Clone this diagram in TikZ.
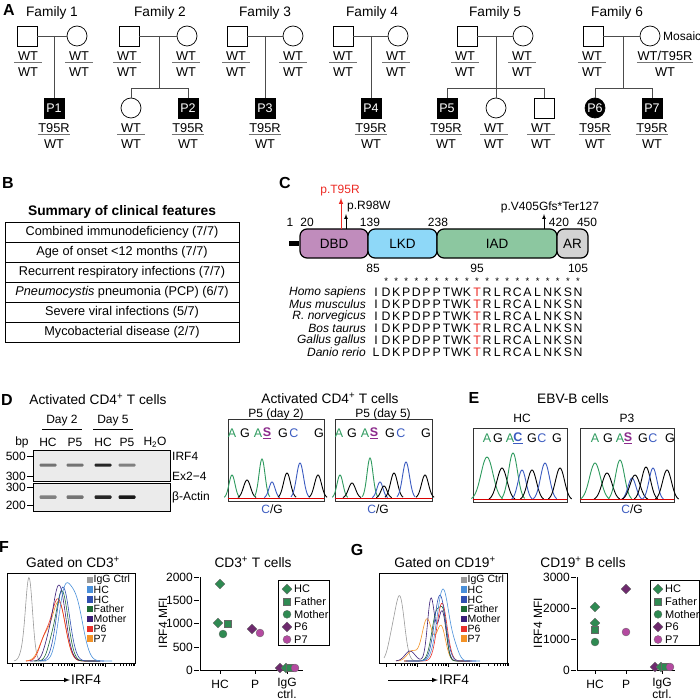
\documentclass[tikz,border=0pt]{standalone}
\usepackage{fontspec}
\setmainfont{Liberation Sans}
\usetikzlibrary{shapes,arrows}

\definecolor{dbdcol}{HTML}{C08CBC}
\definecolor{lkdcol}{HTML}{8ED8F8}
\definecolor{iadcol}{HTML}{8CC7A0}
\definecolor{arcol}{HTML}{D3D3D3}
\definecolor{seqgreen}{HTML}{2E9A5E}
\definecolor{seqblue}{HTML}{3B5BC0}
\definecolor{seqpurple}{HTML}{8B2A8B}
\definecolor{ptred}{HTML}{EC2A24}
\definecolor{iggcol}{HTML}{9A9A9A}
\definecolor{hcone}{HTML}{4A90DA}
\definecolor{hctwo}{HTML}{3050B0}
\definecolor{fathercol}{HTML}{1F6B35}
\definecolor{mothercol}{HTML}{3A1E78}
\definecolor{psixcol}{HTML}{E8302A}
\definecolor{psevencol}{HTML}{F39226}
\definecolor{mkgreen}{HTML}{2F8A52}
\definecolor{mkpurple}{HTML}{6E2A6E}
\definecolor{mkpink}{HTML}{B44AA0}

\tikzset{
  panel/.style={font=\fontsize{16}{18}\selectfont\bfseries, inner sep=0pt},
  ttl/.style={font=\fontsize{13.7}{15}\selectfont, inner sep=1pt},
  lbl/.style={font=\fontsize{12}{13}\selectfont, inner sep=1pt},
  male/.style={draw, rectangle, minimum size=20pt, inner sep=0pt, line width=0.7pt, font=\fontsize{12.5}{13}\selectfont},
  female/.style={draw, circle, minimum size=20pt, inner sep=0pt, line width=0.7pt, font=\fontsize{12.5}{13}\selectfont},
  affected/.style={fill=black, text=white},
  pline/.style={draw=black!70, line width=0.7pt},
  gtext/.style={font=\fontsize{12.8}{13}\selectfont, inner sep=0.5pt, minimum width=27pt},
  gline/.style={draw=black!55, line width=0.8pt},
  rowbox/.style={draw, minimum width=234pt, minimum height=20pt, inner sep=0pt, line width=0.6pt, font=\fontsize{12.7}{13}\selectfont},
  protdom/.style={draw, rounded corners=7pt, line width=1.2pt, minimum height=29pt, inner sep=0pt, font=\fontsize{13.5}{15}\selectfont},
  res/.style={font=\fontsize{12.3}{13}\selectfont, inner sep=0pt, text height=8.8pt, text depth=0pt},
  cons/.style={font=\fontsize{9.5}{10}\selectfont, inner sep=0pt, anchor=base, text height=5pt, text depth=0pt},
  spname/.style={font=\fontsize{12}{13}\selectfont\itshape, inner sep=0pt, anchor=east},
  gelbox/.style={draw, fill=black!8, minimum width=137pt, inner sep=0pt, line width=0.6pt},
  band/.style={rounded corners=1pt, minimum width=17pt, minimum height=3pt, inner sep=0pt},
  chbox/.style={draw=black!80, line width=0.7pt, inner sep=0pt},
  base/.style={font=\fontsize{12.5}{14}\selectfont, inner sep=0pt},
  histbox/.style={draw, line width=0.6pt, minimum width=128pt, minimum height=90pt, inner sep=0pt},
  hline/.style={line width=0.6pt},
  lgsq/.style={rectangle, minimum size=6.5pt, inner sep=0pt},
  lgtxt/.style={font=\fontsize{10.5}{12}\selectfont, inner sep=0pt, anchor=west},
  axis/.style={line width=0.8pt},
  dmd/.style={diamond, draw=black!60, line width=0.3pt, minimum size=10pt, inner sep=0pt},
  sqm/.style={rectangle, draw=black!60, line width=0.3pt, minimum size=7pt, inner sep=0pt},
  cim/.style={circle, draw=black!60, line width=0.3pt, minimum size=8pt, inner sep=0pt}
}

% genotype: name, x, y, upper allele, lower allele
\newcommand{\geno}[5]{%
  \node[gtext] (#1a) at (#2,#3) {#4};
  \node[gtext] (#1b) at (#2,#3+16) {#5};
  \draw[gline] ([yshift=-1.5pt]#1a.south west) -- ([yshift=-1.5pt]#1a.south east);
}
% trace peak: colour, centre, height, width, baseline
\newcommand{\chpeak}[5]{%
  \draw[#1, line width=0.9pt] plot[domain=#2-2.6*#4:#2+2.6*#4, samples=25, smooth] (\x,{#5-#3*gs(\x,#2,#4)});
}
% histogram curve: colour, domain, height expression
\newcommand{\hcurve}[3]{%
  \draw[#1, hline] plot[domain=#2, samples=70, smooth] (\x,{661-(#3)});
}

\begin{document}
\begin{tikzpicture}[x=1pt, y=-1pt,
  declare function={gs(\a,\m,\s)=exp(-((\a-\m)*(\a-\m))/(2*\s*\s));}] % IRF4 T95R figure
\useasboundingbox (0,0) rectangle (700,700);

%% A: pedigrees
\node[panel] (pA) at (9,10) {A};
\node[ttl] (fam1) at (52,13) {Family 1};
\node[ttl] (fam2) at (160,13) {Family 2};
\node[ttl] (fam3) at (265,13) {Family 3};
\node[ttl] (fam4) at (372,13) {Family 4};
\node[ttl] (fam5) at (495,13) {Family 5};
\node[ttl] (fam6) at (617,13) {Family 6};

% family 1
\node[male] (f1dad) at (27,36) {};
\node[female] (f1mom) at (77,36) {};
\coordinate (f1mid) at (54,36);
\node[male,affected] (p1) at (54,108) {P1};
\draw[pline] (f1dad) -- (f1mom);
\draw[pline] (f1mid) -- (p1);
% family 2
\node[male] (f2dad) at (129,36) {};
\node[female] (f2mom) at (187,36) {};
\coordinate (f2mid) at (159,36);
\coordinate (f2bar) at (159,88);
\node[female] (f2sis) at (131,108) {};
\node[male,affected] (p2) at (188,108) {P2};
\draw[pline] (f2dad) -- (f2mom);
\draw[pline] (f2mid) -- (f2bar);
\draw[pline] (f2sis) -- (f2sis |- f2bar) -- (p2 |- f2bar) -- (p2);
% family 3
\node[male] (f3dad) at (237,36) {};
\node[female] (f3mom) at (293,36) {};
\coordinate (f3mid) at (265,36);
\node[male,affected] (p3) at (265,108) {P3};
\draw[pline] (f3dad) -- (f3mom);
\draw[pline] (f3mid) -- (p3);
% family 4
\node[male] (f4dad) at (343,36) {};
\node[female] (f4mom) at (398,36) {};
\coordinate (f4mid) at (371,36);
\node[male,affected] (p4) at (371,108) {P4};
\draw[pline] (f4dad) -- (f4mom);
\draw[pline] (f4mid) -- (p4);
% family 5
\node[male] (f5dad) at (467,36) {};
\node[female] (f5mom) at (523,36) {};
\coordinate (f5mid) at (496,36);
\coordinate (f5bar) at (496,88);
\node[male,affected] (p5) at (447,108) {P5};
\node[female] (f5sis) at (496,108) {};
\node[male] (f5bro) at (544,108) {};
\draw[pline] (f5dad) -- (f5mom);
\draw[pline] (f5mid) -- (f5sis);
\draw[pline] (p5) -- (p5 |- f5bar) -- (f5bro |- f5bar) -- (f5bro);
% family 6
\node[male] (f6dad) at (593,36) {};
\node[female] (f6mom) at (650,36) {};
\coordinate (f6mid) at (623,36);
\coordinate (f6bar) at (623,88);
\node[female,affected] (p6) at (595,108) {P6};
\node[male,affected] (p7) at (652,108) {P7};
\draw[pline] (f6dad) -- (f6mom);
\draw[pline] (f6mid) -- (f6bar);
\draw[pline] (p6) -- (p6 |- f6bar) -- (p7 |- f6bar) -- (p7);
\node[lbl, anchor=west] (mosaic) at (662,36) {Mosaic};

% genotypes
\geno{g1d}{28}{56}{WT}{WT}
\geno{g1m}{79}{56}{WT}{WT}
\geno{g2d}{127}{56}{WT}{WT}
\geno{g2m}{186}{56}{WT}{WT}
\geno{g3d}{236}{56}{WT}{WT}
\geno{g3m}{293}{56}{WT}{WT}
\geno{g4d}{343}{56}{WT}{WT}
\geno{g4m}{396}{56}{WT}{WT}
\geno{g5d}{465}{56}{WT}{WT}
\geno{g5m}{522}{56}{WT}{WT}
\geno{g6d}{592}{56}{WT}{WT}
\geno{g6m}{665}{56}{WT/T95R}{WT}
\geno{gp1}{54}{128}{T95R}{WT}
\geno{g2s}{131}{128}{WT}{WT}
\geno{gp2}{188}{128}{T95R}{WT}
\geno{gp3}{265}{128}{T95R}{WT}
\geno{gp4}{371}{128}{T95R}{WT}
\geno{gp5}{446}{128}{T95R}{WT}
\geno{g5s}{494}{128}{WT}{WT}
\geno{g5b}{541}{128}{WT}{WT}
\geno{gp6}{595}{128}{T95R}{WT}
\geno{gp7}{652}{128}{T95R}{WT}

%% B: clinical table
\node[panel] (pB) at (8,183) {B};
\node[font=\fontsize{13.8}{15}\selectfont\bfseries] (btitle) at (122,212) {Summary of clinical features};
\foreach \rowtxt [count=\i] in {{Combined immunodeficiency (7/7)}, {Age of onset <12 months (7/7)},
    {Recurrent respiratory infections (7/7)}, {\textit{Pneumocystis} pneumonia (PCP) (6/7)},
    {Severe viral infections (5/7)}, {Mycobacterial disease (2/7)}}
  \node[rowbox] (row\i) at (122,212+20*\i) {\rowtxt};

%% C: protein and alignment
\node[panel] (pC) at (285,183) {C};
\coordinate (ntail) at (289,243.5);
\node[protdom, fill=dbdcol, minimum width=68pt] (dbd) at (334,243.5) {DBD};
\node[protdom, fill=lkdcol, minimum width=69pt] (lkd) at (402.5,243.5) {LKD};
\node[protdom, fill=iadcol, minimum width=120pt] (iad) at (497,243.5) {IAD};
\node[protdom, fill=arcol, minimum width=31pt] (ar) at (572.5,243.5) {AR};
\draw[line width=4.5pt] (ntail) -- (dbd.west);
\foreach \n/\xp in {1/290, 20/307, 139/370, 238/438, 420/559, 450/587}
  \node[lbl] (aa\n) at (\xp,222) {\n};
\coordinate (t95) at (341,229);
\coordinate (t95tip) at (341,198);
\node[lbl, text=ptred] (t95lbl) at (340,191) {p.T95R};
\draw[ptred, line width=1pt, -latex] (t95) -- (t95tip);
\coordinate (r98) at (346,229);
\coordinate (r98tip) at (346,214);
\node[lbl, anchor=west] (r98lbl) at (346,207) {p.R98W};
\draw[line width=0.7pt, -latex] (r98) -- (r98tip);
\coordinate (v405) at (544,229);
\coordinate (v405tip) at (544,214);
\node[lbl] (v405lbl) at (550,207) {p.V405Gfs*Ter127};
\draw[line width=0.7pt, -latex] (v405) -- (v405tip);

\node[lbl, inner sep=0pt] (pos85) at (373,268.5) {85};
\node[lbl, inner sep=0pt] (pos95) at (477,268.5) {95};
\node[lbl, inner sep=0pt] (pos105) at (578,268.5) {105};
\foreach \c in {1,...,20}
  \node[cons] (star\c) at (376+10.1*\c,284) {*};
\foreach \spc/\frs [count=\k from 0] in {Homo sapiens/I, Mus musculus/I, R. norvegicus/I,
    Bos taurus/I, Gallus gallus/I, Danio rerio/L} {
  \node[spname] (sp\k) at (366,292+12*\k) {\spc};
  \node[res] (r\k-0) at (376,292+12*\k) {\frs};
  \foreach \aa [count=\c] in {D,K,P,D,P,P,T,W,K,T,R,L,R,C,A,L,N,K,S,N} {
    \ifnum\c=10 \def\rc{ptred}\else\def\rc{black}\fi
    \node[res, text=\rc] (r\k-\c) at (376+10.1*\c,292+12*\k) {\aa};
  }
}

%% D: RT-PCR gel and traces
\node[panel] (pD) at (7,400) {D};
\node[ttl] (dtitle) at (98,399) {Activated CD4\textsuperscript{+} T cells};
\node[lbl] (day2) at (62,421) {Day 2};
\node[lbl] (day5) at (113,421) {Day 5};
\draw[line width=0.7pt] ([xshift=-20pt,yshift=-2pt]day2.south) -- ([xshift=20pt,yshift=-2pt]day2.south);
\draw[line width=0.7pt] ([xshift=-20pt,yshift=-2pt]day5.south) -- ([xshift=20pt,yshift=-2pt]day5.south);
\foreach \ln/\xp/\nm in {{bp}/22/lbp, {HC}/48/l1, {P5}/75/l2, {HC}/103/l3, {P5}/127/l4, {H\textsubscript{2}O}/155/l5}
  \node[lbl] (\nm) at (\xp,442) {\ln};
\node[gelbox, minimum height=31pt] (gel1) at (101.5,466) {};
\node[gelbox, minimum height=28pt] (gel2) at (101.5,497.5) {};
\foreach \xp/\sh [count=\i] in {48/55, 75/55, 103/85, 127/50}
  \node[band, fill=black!\sh] (bt\i) at (\xp,465) {};
\foreach \xp/\sh [count=\i] in {48/50, 75/55, 103/85, 127/90}
  \node[band, fill=black!\sh, minimum height=3.5pt] (bb\i) at (\xp,497) {};
\foreach \v/\yp [count=\i] in {500/456, 300/476, 300/487, 200/505} {
  \node[lbl, anchor=east] (bp\i) at (27,\yp) {\v};
  \draw[line width=0.7pt] (bp\i.east) -- ++(6,0);
}
\node[lbl, anchor=west] (irflbl) at (171,456) {IRF4};
\node[lbl, anchor=west] (exlbl) at (171,476) {Ex2−4};
\node[lbl, anchor=west] (actlbl) at (171,497) {β-Actin};

\node[ttl] (dtitle2) at (330,398) {Activated CD4\textsuperscript{+} T cells};
\node[lbl] (dtr1) at (276,414.5) {P5 (day 2)};
\node[lbl] (dtr2) at (383,414.5) {P5 (day 5)};
\node[chbox, minimum width=96pt, minimum height=82pt] (chd1) at (276,460) {};
\node[chbox, minimum width=97pt, minimum height=82pt] (chd2) at (383.5,460) {};
\foreach \bx/\bl in {228/chd1, 335/chd2}
  \foreach \dx/\bs/\bc [count=\j] in {4/A/seqgreen, 17/G/black, 30/A/seqgreen, 39/{\textbf{\underline{S}}}/seqpurple,
      55/G/black, 66/C/seqblue, 91/G/black}
    \node[base, text=\bc] (\bl-b\j) at (\bx+\dx,433) {\bs};
% day 2 trace
\chpeak{seqgreen}{232}{23}{3}{498}
\chpeak{black}{247}{18}{3.5}{498}
\chpeak{seqgreen}{262}{39}{3}{498}
\chpeak{seqblue}{272}{16}{3}{498}
\chpeak{black}{287}{25}{3.5}{498}
\chpeak{seqblue}{300}{35}{3.5}{498}
\chpeak{black}{318}{23}{3.5}{498}
% day 5 trace
\chpeak{seqgreen}{340}{23}{3}{498}
\chpeak{black}{352}{15}{3.5}{498}
\chpeak{seqgreen}{370}{40}{3}{498}
\chpeak{seqblue}{380}{16}{3}{498}
\chpeak{black}{384}{12}{3}{498}
\chpeak{black}{394}{25}{3.5}{498}
\chpeak{seqblue}{406}{36}{3.5}{498}
\chpeak{black}{425}{23}{3.5}{498}
\draw[red!85!black, line width=1pt] ([yshift=2.5pt]chd1.south west) -- ([yshift=2.5pt]chd1.south east);
\draw[red!85!black, line width=1pt] ([yshift=2.5pt]chd2.south west) -- ([yshift=2.5pt]chd2.south east);
\node[lbl] (cg1) at (272,509) {\textcolor{seqblue}{C}/G};
\node[lbl] (cg2) at (378,509) {\textcolor{seqblue}{C}/G};

%% E: EBV-B traces
\node[panel] (pE) at (474,398) {E};
\node[ttl] (etitle) at (573,399) {EBV-B cells};
\node[lbl] (etr1) at (522,418) {HC};
\node[lbl] (etr2) at (627,418) {P3};
\node[chbox, minimum width=94pt, minimum height=74pt] (che1) at (520,465) {};
\node[chbox, minimum width=94pt, minimum height=74pt] (che2) at (627,465) {};
\foreach \dx/\bs/\bc [count=\j] in {14/A/seqgreen, 25/G/black, 37/A/seqgreen, 45/{\textbf{\underline{C}}}/seqblue,
    59/G/black, 69/C/seqblue, 84/G/black}
  \node[base, text=\bc] (che1-b\j) at (473+\dx,438) {\bs};
\foreach \dx/\bs/\bc [count=\j] in {15/A/seqgreen, 28/G/black, 40/A/seqgreen, 48/{\textbf{\underline{S}}}/seqpurple,
    63/G/black, 73/C/seqblue, 90/G/black}
  \node[base, text=\bc] (che2-b\j) at (580+\dx,438) {\bs};
% HC trace
\chpeak{seqgreen}{487}{43}{6}{500}
\chpeak{black}{502}{32}{5}{500}
\chpeak{seqgreen}{513}{47}{4.5}{500}
\chpeak{seqblue}{522}{30}{4}{500}
\chpeak{black}{532}{30}{4.5}{500}
\chpeak{seqblue}{545}{37}{4.5}{500}
\chpeak{black}{560}{32}{4.5}{500}
% P3 trace
\chpeak{seqgreen}{595}{37}{5.5}{500}
\chpeak{black}{607}{27}{5}{500}
\chpeak{seqgreen}{620}{40}{4.5}{500}
\chpeak{seqblue}{632}{22}{4}{500}
\chpeak{black}{635}{25}{5}{500}
\chpeak{black}{646}{33}{4.5}{500}
\chpeak{seqblue}{653}{32}{4}{500}
\chpeak{black}{667}{30}{4.5}{500}
\draw[red!85!black, line width=1pt] ([yshift=2.5pt]che1.south west) -- ([yshift=2.5pt]che1.south east);
\draw[red!85!black, line width=1pt] ([yshift=2.5pt]che2.south west) -- ([yshift=2.5pt]che2.south east);
\node[lbl] (cg3) at (632,509) {\textcolor{seqblue}{C}/G};

%% F: CD3+ T cells
\node[panel] (pF) at (4,547) {F};
\node[ttl] (ftitle) at (73,562) {Gated on CD3\textsuperscript{+}};
\node[histbox] (fhist) at (71,618) {};
\hcurve{iggcol}{14:46}{83*gs(\x,29,3.5)+6*gs(\x,22,3)}
\hcurve{psevencol}{26:100}{58*gs(\x,59,6.5)+22*gs(\x,45,6)}
\hcurve{psixcol}{26:100}{62*gs(\x,58,7)+18*gs(\x,44,5)}
\hcurve{mothercol}{30:100}{76*gs(\x,59,6.5)+10*gs(\x,47,4)}
\hcurve{fathercol}{34:100}{70*gs(\x,62,6)+12*gs(\x,51,4)}
\hcurve{hctwo}{38:104}{74*gs(\x,63,6.5)}
\hcurve{hcone}{40:112}{60*gs(\x,64,6)+58*gs(\x,76,7)}
\foreach \lg/\cl [count=\i] in {IgG Ctrl/iggcol, HC/hcone, HC/hctwo, Father/fathercol,
    Mother/mothercol, P6/psixcol, P7/psevencol} {
  \node[lgsq, fill=\cl] (fsq\i) at (90,570+9.8*\i) {};
  \node[lgtxt] (flg\i) at (93.5,570+9.8*\i) {\lg};
}
\foreach \d in {0,...,3} {
  \draw[line width=0.5pt] (12+31*\d,663) -- ++(0,4);
  \foreach \m in {2,...,9}
    \draw[line width=0.4pt] ({12+31*\d+31*log10(\m)},663) -- ++(0,2.5);
}
\coordinate (farr) at (20,680);
\node[ttl, anchor=west] (firf) at (70,680) {IRF4};
\draw[line width=1pt, -latex] (farr) -- (firf.west);

\node[ttl] (fstitle) at (253,562) {CD3\textsuperscript{+} T cells};
\coordinate (fo) at (200,670);
\coordinate (fytop) at (200,577);
\coordinate (fxend) at (303,670);
\draw[axis] (fytop) -- (fo) -- (fxend);
\foreach \v/\yp in {0/670, 500/647, 1000/623, 1500/600, 2000/577} {
  \node[lbl, anchor=east] (fy\v) at (194,\yp) {\v};
  \draw[axis] (fy\v.east) -- ++(5,0);
}
\node[lbl, rotate=90] (fylbl) at (163,623) {IRF4 MFI};
\foreach \ct/\xp [count=\i] in {HC/220, P/255}
  \node[lbl] (fx\i) at (\xp,684) {\ct};
\node[lbl, align=center, font=\fontsize{12}{8}\selectfont] (fx3) at (287,688) {IgG\\ctrl.};
\foreach \xp in {220,255,287}
  \draw[axis] (\xp,670) -- ++(0,4);
\node[dmd, fill=mkgreen] (fhc1) at (220,584) {};
\node[dmd, fill=mkgreen] (fhc2) at (218,623) {};
\node[sqm, fill=mkgreen] (ffa) at (228,624) {};
\node[cim, fill=mkgreen] (fmo) at (223,634) {};
\node[dmd, fill=mkpurple] (fp6) at (252,629) {};
\node[cim, fill=mkpink] (fp7) at (260,633) {};
\node[dmd, fill=mkpurple] (fi1) at (280,668) {};
\node[dmd, fill=mkgreen] (fi2) at (286,668) {};
\node[sqm, fill=mkgreen] (fi3) at (290,668) {};
\node[cim, fill=mkpink] (fi4) at (295,668) {};
\node[draw, line width=0.6pt, minimum width=51pt, minimum height=65pt, inner sep=0pt] (fleg) at (304,612.5) {};
\foreach \lg/\mk/\mc [count=\i] in {HC/dmd/mkgreen, Father/sqm/mkgreen, Mother/cim/mkgreen, P6/dmd/mkpurple, P7/cim/mkpink} {
  \node[\mk, fill=\mc] (fm\i) at (287,576.5+12.6*\i) {};
  \node[lgtxt, font=\fontsize{11}{13}\selectfont] (fl\i) at (294,576.5+12.6*\i) {\lg};
}

%% G: CD19+ B cells
\node[panel] (pG) at (357,550) {G};
\node[ttl] (gtitle) at (445,562) {Gated on CD19\textsuperscript{+}};
\node[histbox] (ghist) at (443.5,618) {};
\hcurve{iggcol}{384:420}{62*gs(\x,400,4.5)+22*gs(\x,392,4)}
\hcurve{psevencol}{396:470}{42*gs(\x,427,5)+35*gs(\x,441,4.5)+10*gs(\x,412,5)}
\hcurve{mothercol}{396:470}{62*gs(\x,431,3.5)+50*gs(\x,442,4)+10*gs(\x,410,5)}
\hcurve{fathercol}{404:470}{50*gs(\x,437,5)+30*gs(\x,444,3)}
\hcurve{psixcol}{404:472}{58*gs(\x,442,5)}
\hcurve{hctwo}{406:476}{66*gs(\x,440,5.5)}
\hcurve{hcone}{408:480}{72*gs(\x,443,6)+10*gs(\x,455,4)}
\foreach \lg/\cl [count=\i] in {IgG Ctrl/iggcol, HC/hcone, HC/hctwo, Father/fathercol,
    Mother/mothercol, P6/psixcol, P7/psevencol} {
  \node[lgsq, fill=\cl] (gsq\i) at (464,570+9.8*\i) {};
  \node[lgtxt] (glg\i) at (467.5,570+9.8*\i) {\lg};
}
\foreach \d in {0,...,3} {
  \draw[line width=0.5pt] (386+31*\d,663) -- ++(0,4);
  \foreach \m in {2,...,9}
    \draw[line width=0.4pt] ({386+31*\d+31*log10(\m)},663) -- ++(0,2.5);
}
\coordinate (garr) at (388,680);
\node[ttl, anchor=west] (girf) at (438,680) {IRF4};
\draw[line width=1pt, -latex] (garr) -- (girf.west);

\node[ttl] (gstitle) at (583,562) {CD19\textsuperscript{+} B cells};
\coordinate (go) at (577,670);
\coordinate (gytop) at (577,577);
\coordinate (gxend) at (675,670);
\draw[axis] (gytop) -- (go) -- (gxend);
\foreach \v/\yp in {0/670, 1000/639, 2000/608, 3000/577} {
  \node[lbl, anchor=east] (gy\v) at (571,\yp) {\v};
  \draw[axis] (gy\v.east) -- ++(5,0);
}
\node[lbl, rotate=90] (gylbl) at (538,623) {IRF4 MFI};
\foreach \ct/\xp [count=\i] in {HC/595, P/626}
  \node[lbl] (gx\i) at (\xp,684) {\ct};
\node[lbl, align=center, font=\fontsize{12}{8}\selectfont] (gx3) at (662,688) {IgG\\ctrl.};
\foreach \xp in {595,626,662}
  \draw[axis] (\xp,670) -- ++(0,4);
\node[dmd, fill=mkgreen] (ghc1) at (595,607) {};
\node[dmd, fill=mkgreen] (ghc2) at (595,623) {};
\node[sqm, fill=mkgreen] (gfa) at (595,630) {};
\node[cim, fill=mkgreen] (gmo) at (595,642) {};
\node[dmd, fill=mkpurple] (gp6) at (626,589) {};
\node[cim, fill=mkpink] (gp7) at (626,632) {};
\node[dmd, fill=mkpurple] (gi1) at (655,667) {};
\node[dmd, fill=mkgreen] (gi2) at (661,667) {};
\node[sqm, fill=mkgreen] (gi3) at (665,667) {};
\node[cim, fill=mkpink] (gi4) at (670,667) {};
\node[draw, line width=0.6pt, minimum width=49pt, minimum height=65pt, inner sep=0pt] (gleg) at (674.5,612.5) {};
\foreach \lg/\mk/\mc [count=\i] in {HC/dmd/mkgreen, Father/sqm/mkgreen, Mother/cim/mkgreen, P6/dmd/mkpurple, P7/cim/mkpink} {
  \node[\mk, fill=\mc] (gm\i) at (658,576.5+12.6*\i) {};
  \node[lgtxt, font=\fontsize{11}{13}\selectfont] (gl\i) at (665,576.5+12.6*\i) {\lg};
}
\end{tikzpicture}
\end{document}
